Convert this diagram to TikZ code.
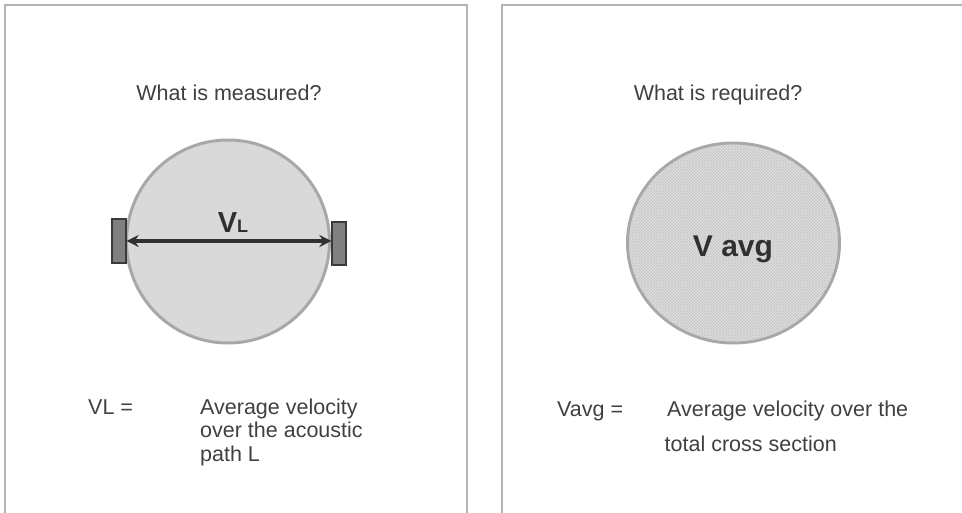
\documentclass[tikz,border=0pt]{standalone}
\usepackage{fontspec}
\setmainfont{Liberation Sans}
\usetikzlibrary{arrows.meta,patterns}
\definecolor{txt}{HTML}{404040}
\definecolor{dark}{HTML}{303030}
\definecolor{frame}{HTML}{B4B4B4}
\definecolor{ring}{HTML}{A8A8A8}
\definecolor{disk}{HTML}{D9D9D9}
\definecolor{disk2}{HTML}{E2E2E2}
\definecolor{hatch}{HTML}{C8C8C8}
\definecolor{trans}{HTML}{808080}
\definecolor{transb}{HTML}{3A3A3A}
\begin{document}
\begin{tikzpicture}[x=1pt,y=-1pt,
  panel/.style={draw=frame,line width=1.2pt},
  bodytext/.style={inner sep=0pt,text=txt,font=\fontsize{21.5}{23.5}\selectfont,align=left},
  titletext/.style={inner sep=0pt,text=txt,font=\fontsize{21.5}{24}\selectfont,anchor=base},
  transducer/.style={draw=transb,fill=trans,line width=1.2pt,minimum width=14pt,minimum height=44pt,inner sep=0pt},
  pipe/.style={draw=ring,line width=3pt}
]
\useasboundingbox (0,0) rectangle (962,512);
% panels
\draw[panel] (5,520) -- (5,5) -- (467,5) -- (467,520);
\draw[panel] (502,520) -- (502,5) -- (970,5);
% titles
\node[titletext] (t1) at (229,100) {What is measured?};
\node[titletext] (t2) at (718,100) {What is required?};
% left circle
\node[pipe,fill=disk,circle,minimum size=203pt,inner sep=0pt] (c1) at (228,241.5) {};
\node[transducer] (tl) at (119,241) {};
\node[transducer,minimum height=43pt] (tr) at (339,243.5) {};
\draw[draw=dark,line width=3.2pt,{Stealth[length=12pt,width=12pt]}-{Stealth[length=12pt,width=12pt]}] (tl.east) -- (tl.east -| tr.west);
\node[inner sep=0pt,anchor=base,text=dark] (vl) at (233,232) {\fontsize{29}{30}\selectfont\bfseries V\fontsize{18}{20}\selectfont L};
% right circle
\draw[pipe,fill=disk2] (733.5,243) ellipse [x radius=106pt,y radius=100pt];
\fill[pattern=crosshatch,pattern color=hatch] (733.5,243) ellipse [x radius=104.5pt,y radius=98.5pt];
\node[inner sep=0pt,anchor=base,text=dark,font=\fontsize{30}{32}\selectfont\bfseries] (va) at (733,256) {V avg};
% bottom texts
\node[bodytext,anchor=base west] (l1) at (88,414) {VL =};
\node[bodytext,anchor=base west] (l2) at (200,461) {Average velocity\\over the acoustic\\path L};
\node[bodytext,anchor=base west] (r1) at (557,416) {Vavg =};
\node[bodytext,anchor=base west,font=\fontsize{21.5}{35}\selectfont] (r2) at (667,451) {Average velocity over the\\\hspace*{-2.5pt}total cross section};
\end{tikzpicture}
\end{document}
